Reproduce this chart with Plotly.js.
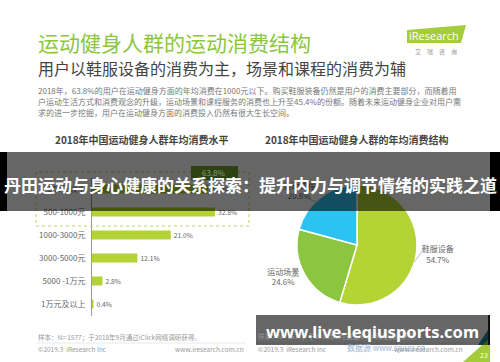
<!DOCTYPE html>
<html>
<head>
<meta charset="utf-8">
<script src="https://cdn.plot.ly/plotly-3.0.1.min.js"></script>
<style>html,body{margin:0;padding:0;background:#fff;}#chart{width:500px;height:362px;}</style>
</head>
<body>
<div id="chart"></div>
<script>
// ---- data ----
const barCategories = ['500元以下', '500-1000元', '1000-3000元', '3000-5000元', '5000 -1万元', '1万元及以上'];
const barValues = [31.0, 32.8, 21.0, 12.1, 2.8, 0.4];
const under1000Share = '63.8%';
const pieLabels = ['鞋服设备', '运动场景', '运动课程'];
const pieValues = [54.7, 24.6, 20.8];
const pieColors = ['#b4d334', '#8cc540', '#2dc3f0'];

const mainTitle = '运动健身人群的运动消费结构';
const subTitle = '用户以鞋服设备的消费为主，场景和课程的消费为辅';
const paraLines = [
  '2018年，63.8%的用户在运动健身方面的年均消费在1000元以下。购买鞋服装备仍然是用户的消费主要部分，而随着用',
  '户运动生活方式和消费观念的升级，运动场景和课程服务的消费也上升至45.4%的份额。随着未来运动健身企业对用户需',
  '求的进一步挖掘，用户在运动健身方面的消费投入仍然有很大生长空间。'
];
const barTitle = '2018年中国运动健身人群年均消费水平';
const pieTitle = '2018年中国运动健身人群的年均消费结构';
const sampleNote = '样本：N= 1577；于2018年9月通过iClick网络调研获得。';
const copyright = '©2019.3  iResearch Inc';
const siteUrl = 'www.iresearch.com.cn';
const bannerTop = '丹田运动与身心健康的关系探索：提升内力与调节情绪的实践之道';
const bannerBottom = 'www.live-leqiusports.com';

// ---- helpers (pixel -> paper) ----
const W = 500, H = 362;
const X = p => p / W;
const Y = p => 1 - p / H;
const CJK = 'Noto Sans CJK SC, sans-serif';

const barTrace = {
  type: 'bar', orientation: 'h',
  y: barCategories, x: barValues,
  xaxis: 'x', yaxis: 'y',
  marker: {color: '#b3d235'},
  text: barValues.map(v => v.toFixed(1) + '%'),
  textposition: 'outside',
  textfont: {family: CJK, size: 8, color: '#666'},
  cliponaxis: false,
  hoverinfo: 'none'
};

const pieTrace = {
  type: 'pie',
  labels: pieLabels, values: pieValues,
  marker: {colors: pieColors, line: {color: '#fff', width: 1.5}},
  sort: false, direction: 'clockwise', rotation: 0,
  textposition: 'outside',
  texttemplate: '%{label}<br>%{value:.1f}%',
  textfont: {family: CJK, size: 8, color: '#666'},
  domain: {x: [X(297), X(417)], y: [Y(305), Y(185)]},
  hoverinfo: 'none'
};

function ann(text, x, y, size, color, opts) {
  return Object.assign({
    text: text, x: X(x), y: Y(y), xref: 'paper', yref: 'paper',
    xanchor: 'left', yanchor: 'middle', showarrow: false,
    font: {family: CJK, size: size, color: color}
  }, opts || {});
}

const annotations = [
  ann(mainTitle, 36, 42, 21, '#8cc63f'),
  ann(subTitle, 36, 68, 16, '#444'),
  ann(paraLines[0], 36, 90, 8, '#777'),
  ann(paraLines[1], 36, 101, 8, '#777'),
  ann(paraLines[2], 36, 112, 8, '#777'),
  ann('iResearch', 434, 35, 11, '#fff', {xanchor: 'center', font: {family: 'Open Sans, sans-serif', size: 11, color: '#fff'}}),
  ann('艾　瑞　咨　询', 436, 51, 6, '#999', {xanchor: 'center'}),
  ann('<b>' + barTitle + '</b>', 142, 139, 10, '#444', {xanchor: 'center'}),
  ann('<b>' + pieTitle + '</b>', 357, 139, 10, '#444', {xanchor: 'center'}),
  ann(under1000Share, 214, 172, 8, '#8e9a80', {xanchor: 'center'}),
  ann(sampleNote, 36, 337, 6.5, '#999'),
  ann(copyright, 36, 349, 6.5, '#999'),
  ann(siteUrl, 246, 349, 6.5, '#999', {xanchor: 'right'}),
  ann(sampleNote, 256, 336, 6.5, '#999'),
  ann(copyright, 256, 349, 6.5, '#999'),
  ann('数据源 www.sjuuu.cn', 345, 347, 8, '#9bb3d6'),
  ann(siteUrl, 465, 349, 6.5, '#999', {xanchor: 'right'}),
  ann('23', 484, 355, 7, '#fff', {xanchor: 'center'}),
  ann('<b>' + bannerTop + '</b>', 250, 184, 17, '#fff', {xanchor: 'center'}),
  ann('<b>' + bannerBottom + '</b>', 372, 331, 16.5, '#fff', {xanchor: 'center', font: {family: 'Noto Sans, sans-serif', size: 16.5, color: '#fff'}})
];

function rect(x0, y0, x1, y1, fill, line) {
  return {type: 'rect', xref: 'paper', yref: 'paper', x0: X(x0), x1: X(x1), y0: Y(y1), y1: Y(y0),
    fillcolor: fill, line: line || {width: 0}, layer: 'above'};
}
function path(pts, fill) {
  const d = pts.map((p, i) => (i ? 'L' : 'M') + X(p[0]) + ',' + Y(p[1])).join(' ') + ' Z';
  return {type: 'path', xref: 'paper', yref: 'paper', path: d, fillcolor: fill, line: {width: 0}, layer: 'above'};
}
function line(x0, y0, x1, y1, color, w) {
  return {type: 'line', xref: 'paper', yref: 'paper', x0: X(x0), y0: Y(y0), x1: X(x1), y1: Y(y1),
    line: {color: color, width: w || 1}, layer: 'above'};
}

const shapes = [
  // iResearch logo
  path([[407, 30], [466, 25], [461, 43], [407, 43]], '#a5cd39'),
  // dotted frame around under-1000 bars
  rect(36, 172, 249, 226, 'rgba(0,0,0,0)', {color: '#b8d66a', width: 1, dash: 'dot'}),
  rect(191, 166, 238, 180, '#6fa52a'),
  // pie leader lines
  line(414, 262, 425, 248, '#aaa', 0.8), line(425, 248, 429, 248, '#aaa', 0.8),
  line(299, 276, 291, 277, '#aaa', 0.8),
  line(318, 203, 305, 197, '#aaa', 0.8),
  // footer rules
  line(36, 343, 246, 343, '#e2e2e2', 0.8),
  line(256, 343, 466, 343, '#e2e2e2', 0.8),
  // corner decoration
  path([[478, 345], [490, 327], [490, 345]], '#1b8a9a'),
  path([[463, 362], [490, 338], [490, 362]], '#a2cc3a'),
  // top banner
  rect(7, 152, 490, 211, 'rgba(0,0,0,0.6)'),
  rect(0, 152, 7, 211, '#000'),
  rect(490, 152, 500, 211, '#000'),
  // bottom banner
  rect(256, 315, 489, 345, 'rgba(0,0,0,0.6)'),
  rect(488, 315, 490, 345, '#111')
];

const layout = {
  width: W, height: H,
  margin: {l: 0, r: 0, t: 0, b: 0, pad: 0},
  paper_bgcolor: '#fff', plot_bgcolor: 'rgba(0,0,0,0)',
  showlegend: false,
  bargap: 0.6,
  xaxis: {domain: [X(92), X(250)], range: [0, 42.13], visible: false, fixedrange: true},
  yaxis: {domain: [Y(315.5), Y(177.5)], type: 'category', range: [5.5, -0.5],
    showline: true, linecolor: '#999', linewidth: 1, ticks: '', showgrid: false, zeroline: false,
    tickfont: {family: CJK, size: 8, color: '#666'}, ticklabelstandoff: 4, anchor: 'x', fixedrange: true},
  annotations: annotations,
  shapes: shapes
};

Plotly.newPlot('chart', [barTrace, pieTrace], layout, {displayModeBar: false, staticPlot: true});
</script>
</body>
</html>
